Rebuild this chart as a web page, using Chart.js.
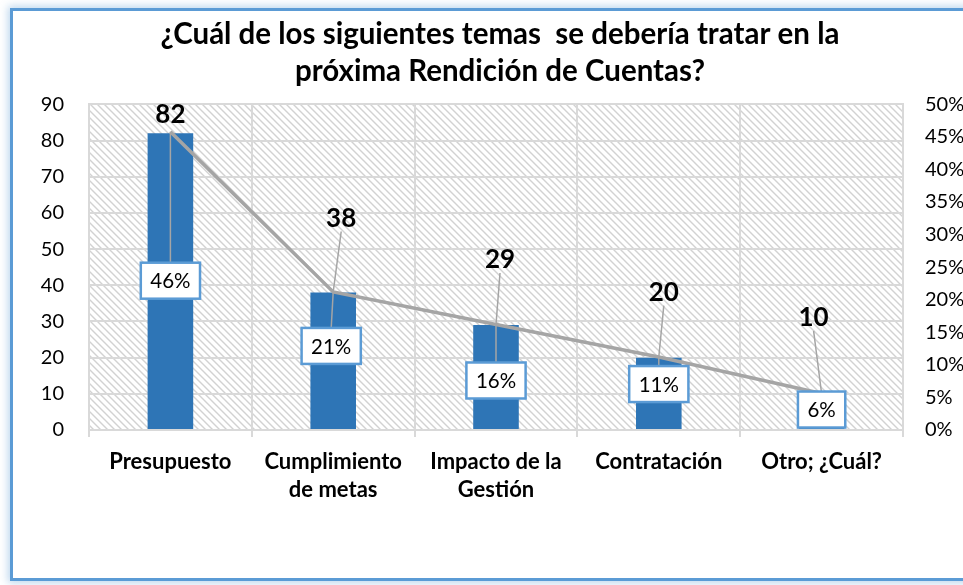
<!DOCTYPE html>
<html>
<head>
<meta charset="utf-8">
<script src="https://cdn.jsdelivr.net/npm/chart.js@4"></script>
<style>
  html, body { margin: 0; padding: 0; background: #fff; overflow: hidden; width: 963px; height: 585px; }
  .frame {
    position: absolute; left: 10px; top: 8px; width: 1000px; height: 567px;
    border: 3px solid #5b9bd5; box-shadow: 0 0 8px 2px rgba(91, 155, 213, 0.4);
  }
  #chart { position: absolute; left: 0; top: 0; }
</style>
</head>
<body>
<div class="frame"></div>
<canvas id="chart" width="1000" height="585"></canvas>
<script>
const categories = ["Presupuesto", ["Cumplimiento", "de metas"], ["Impacto de la", "Gestión"], "Contratación", "Otro; ¿Cuál?"];
const counts = [82, 38, 29, 20, 10];
const shares = [45.8, 21.2, 16.2, 11.2, 5.6];
const shareLabels = ["46%", "21%", "16%", "11%", "6%"];
const titleLines = ["¿Cuál de los siguientes temas  se debería tratar en la", "próxima Rendición de Cuentas?"];

// label placement (px), relative to the bar top / line point
const countLabelShift = [[0, -19], [8, -74], [4, -65], [5, -65], [-8, -76]];
const shareBoxShift = [[0, 149], [-2, 54], [0, 56], [0, 27], [0, 16]];

const FONT = "Lato, 'Open Sans', sans-serif";
const BLUE = "#2e75b6";
const GREY = "#a5a5a5";

function hatch() {
  const s = 7;
  const c = document.createElement("canvas");
  c.width = s; c.height = s;
  const g = c.getContext("2d");
  g.fillStyle = "#fff";
  g.fillRect(0, 0, s, s);
  g.strokeStyle = "#d2d2d2";
  g.lineWidth = 1.4;
  g.beginPath();
  g.moveTo(-1, -1); g.lineTo(s + 1, s + 1);
  g.moveTo(-1, s - 1); g.lineTo(1, s + 1);
  g.moveTo(s - 1, -1); g.lineTo(s + 1, 1);
  g.stroke();
  return c;
}

const hatchBg = {
  id: "hatchBg",
  beforeDraw(chart) {
    const { ctx, chartArea: a } = chart;
    ctx.save();
    ctx.fillStyle = ctx.createPattern(hatch(), "repeat");
    ctx.fillRect(a.left, a.top, a.right - a.left, a.bottom - a.top);
    ctx.restore();
  }
};

const labels = {
  id: "labels",
  afterDatasetsDraw(chart) {
    const { ctx } = chart;
    const bars = chart.getDatasetMeta(0).data;
    const pts = chart.getDatasetMeta(1).data;
    ctx.save();
    ctx.textAlign = "center";
    ctx.textBaseline = "middle";

    bars.forEach((bar, i) => {
      const p = pts[i];
      const lx = bar.x + countLabelShift[i][0];
      const ly = bar.y + countLabelShift[i][1];
      const bx = p.x + shareBoxShift[i][0];
      const by = p.y + shareBoxShift[i][1];

      // leader lines
      ctx.strokeStyle = GREY;
      ctx.lineWidth = 1.5;
      ctx.beginPath();
      if (p.y - (ly + 13) > 20) {
        ctx.moveTo(lx, ly + 13);
        ctx.lineTo(p.x, p.y);
      }
      ctx.moveTo(p.x, p.y);
      ctx.lineTo(bx, by - 18);
      ctx.stroke();

      // count label
      ctx.fillStyle = "#000";
      ctx.font = "bold 26px " + FONT;
      ctx.fillText(String(counts[i]), lx, ly);

      // share box
      ctx.font = "20.5px " + FONT;
      const w = ctx.measureText(shareLabels[i]).width + 19;
      const h = 36;
      ctx.fillStyle = "#fff";
      ctx.fillRect(bx - w / 2, by - h / 2, w, h);
      ctx.strokeStyle = "#5b9bd5";
      ctx.lineWidth = 2.5;
      ctx.strokeRect(bx - w / 2, by - h / 2, w, h);
      ctx.fillStyle = "#000";
      ctx.fillText(shareLabels[i], bx, by + 1);
    });
    ctx.restore();
  }
};

new Chart(document.getElementById("chart"), {
  data: {
    labels: categories,
    datasets: [
      {
        type: "bar",
        data: counts,
        backgroundColor: BLUE,
        barPercentage: 0.28,
        categoryPercentage: 1,
        yAxisID: "y",
        order: 2
      },
      {
        type: "line",
        data: shares,
        borderColor: GREY,
        borderWidth: 3.5,
        pointRadius: 0,
        tension: 0,
        yAxisID: "y1",
        order: 1
      }
    ]
  },
  plugins: [hatchBg, labels],
  options: {
    responsive: false,
    devicePixelRatio: 1,
    animation: false,
    layout: { padding: { top: 0, left: 0, right: 0, bottom: 75 } },
    plugins: {
      legend: { display: false },
      tooltip: { enabled: false },
      title: {
        display: true,
        text: titleLines,
        color: "#000",
        font: { family: FONT, size: 29.5, weight: "bold", lineHeight: 1.26 },
        padding: { top: 16, bottom: 14 }
      }
    },
    scales: {
      x: {
        grid: { color: "#d9d9d9", lineWidth: 2, tickLength: 7 },
        border: { color: "#d9d9d9", width: 2 },
        ticks: {
          color: "#000",
          padding: 11,
          maxRotation: 0,
          autoSkip: false,
          font: { family: FONT, size: 22, weight: "bold", lineHeight: 1.27 }
        },
        afterFit(s) { s.height = 80; }
      },
      y: {
        position: "left",
        min: 0,
        max: 90,
        ticks: { stepSize: 10, color: "#000", padding: 25, font: { family: FONT, size: 20 } },
        grid: { color: "#d9d9d9", lineWidth: 2, drawTicks: false },
        border: { color: "#d9d9d9", width: 2 },
        afterFit(s) { s.width = 89; }
      },
      y1: {
        position: "right",
        min: 0,
        max: 50,
        ticks: { stepSize: 5, color: "#000", padding: 22, font: { family: FONT, size: 20 }, callback: (v) => v + "%" },
        grid: { display: false, drawTicks: false },
        border: { color: "#d9d9d9", width: 2 },
        afterFit(s) { s.width = 97; }
      }
    }
  }
});
</script>
</body>
</html>
